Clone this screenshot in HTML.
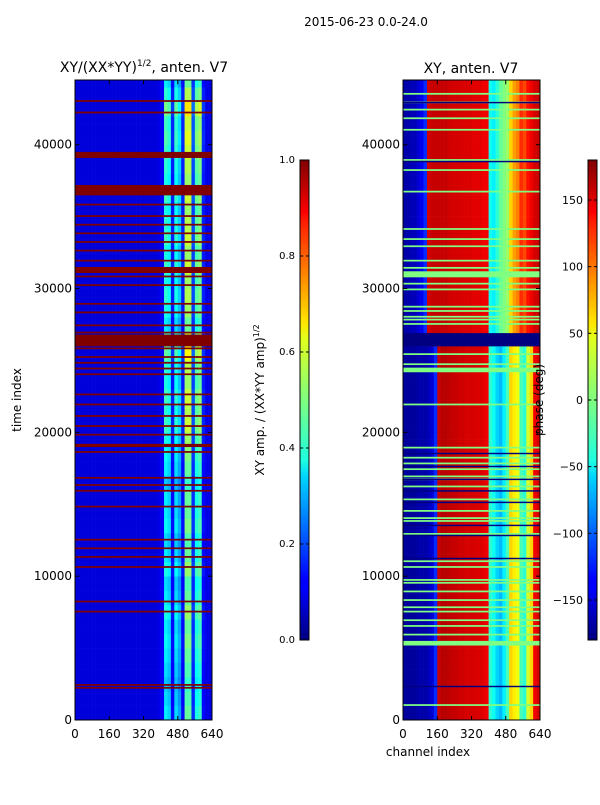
<!DOCTYPE html>
<html><head><meta charset="utf-8"><style>
body{margin:0;background:#fff;width:600px;height:800px;overflow:hidden;font-family:"Liberation Sans","DejaVu Sans",sans-serif;}
svg text{font-family:"DejaVu Sans","Liberation Sans",sans-serif;fill:#000;}
</style></head><body>
<svg id="fig" width="600" height="800" xmlns="http://www.w3.org/2000/svg">
<text x="366" y="26" font-size="12" text-anchor="middle">2015-06-23 0.0-24.0</text>
<text x="144" y="72" font-size="14" text-anchor="middle">XY/(XX*YY)<tspan font-size="9" dy="-6">1/2</tspan><tspan dy="6">, anten. V7</tspan></text>
<text x="471" y="73" font-size="14" text-anchor="middle">XY, anten. V7</text>
<text transform="translate(21,400) rotate(-90)" font-size="12" text-anchor="middle">time index</text>
<text transform="translate(264,400) rotate(-90)" font-size="12" text-anchor="middle">XY amp. / (XX*YY amp)<tspan font-size="8" dy="-5">1/2</tspan></text>
<text x="428" y="756" font-size="12" text-anchor="middle">channel index</text>
<g id="left"></g>
<g id="right"></g>
<g id="axes"></g>
<defs>
<linearGradient id="jet" x1="0" y1="1" x2="0" y2="0">
<stop offset="0" stop-color="#00007f"/><stop offset="0.11" stop-color="#0000ff"/><stop offset="0.125" stop-color="#0000ff"/><stop offset="0.34" stop-color="#00d4ff"/><stop offset="0.375" stop-color="#1fffdf"/><stop offset="0.5" stop-color="#7fff7f"/><stop offset="0.625" stop-color="#dfff1f"/><stop offset="0.66" stop-color="#ffe600"/><stop offset="0.875" stop-color="#ff1a00"/><stop offset="0.89" stop-color="#ff0000"/><stop offset="1" stop-color="#7f0000"/>
</linearGradient>
</defs>
<rect x="300" y="160" width="9" height="480" fill="url(#jet)" stroke="#000" stroke-width="1"/>
<rect x="588" y="160" width="9" height="480" fill="url(#jet)" stroke="#000" stroke-width="1"/>
<g id="cbticks"></g>
</svg>
<script>
// ---- data ----
var timeMax = 44500;
var rowStep = 500;
var chanStep = 16;
// left amplitude channel profile (16-ch bins, 40 bins)
var ampProfile = [0.09,0.09,0.09,0.09,0.09,0.09,0.09,0.09,0.09,0.09,0.09,0.09,0.09,0.09,0.09,0.09,0.09,0.09,0.09,0.09,0.09,0.09,0.09,0.09,0.1,0.12,0.38,0.35,0.14,0.36,0.3,0.14,0.5,0.5,0.18,0.42,0.45,0.14,0.1,0.1];
// row gain per 1000 time index (0..44000)
var rowGain = [0.95,0.9,0.85,0.9,0.95,1.0,0.95,1.05,0.95,0.9,1.05,0.95,0.9,1.0,0.95,0.95,0.85,0.95,1.0,1.05,1.15,1.1,1.15,1.05,1.1,1.25,1.15,0.95,1.05,1.1,1.05,1.15,1.05,1.15,1.1,1.05,1.15,1.05,1.1,1.15,1.2,1.15,1.3,1.1,0.95];
// left flagged (dark red) rows
var leftFlags = [43000,42200,39400,37100,36800,35800,35000,34400,33800,33200,32600,31900,30800,30200,28900,28300,27400,26900,25800,25200,24800,24400,24000,22600,21900,21100,20400,19800,18600,16800,16300,15900,14800,12500,11900,11300,10600,8200,7500,2400,2200];
var leftThick = [[39100,39400],[36500,37200],[31100,31500],[26000,26800],[19000,19200]];
// right phase channel profiles (degrees)
var phaseUpper = [-165,-165,-160,-160,-150,-140,-120,150,155,155,155,155,155,152,150,150,150,148,148,148,145,145,145,140,140,-40,-50,-30,-10,0,10,60,80,90,120,110,130,140,150,155];
var phaseLower = [-170,-170,-170,-170,-165,-165,-165,-160,-150,-120,155,160,160,158,155,155,152,152,150,150,150,148,148,145,140,-30,-40,-60,-70,-50,-20,60,50,40,-20,-30,30,60,140,150];
var phaseSplit = 26000;
var greenFlags = [43500,42900,42400,41800,41000,38900,38200,36700,34100,33400,32900,31900,31400,30900,30300,29900,28700,28400,28000,27800,27500,25400,24700,21900,18900,18200,17800,17400,16900,16700,16200,15300,14500,14000,13800,12900,11000,10600,9700,9500,8900,8300,7800,7500,6900,6500,5900,5400,1000];
var greenThick = [[30800,31200],[24200,24500],[5200,5400]];
var navyFlags = [42900,38800,18500,17600,16700,15900,15100,13500,12800,11200,2300];
var navyThick = [[26000,26900]];
// tick labels
var xTicks = [0,160,320,480,640];
var yTicks = [0,10000,20000,30000,40000];
var ampTicks = [0.0,0.2,0.4,0.6,0.8,1.0];
var phaseTicks = [-150,-100,-50,0,50,100,150];

// ---- helpers ----
var NS = "http://www.w3.org/2000/svg";
var L = {x0:75, x1:212}, R = {x0:403, x1:540}, Y0 = 720, Y1 = 80;
function ty(t){ return Y0 - (t/timeMax)*(Y0-Y1); }
function cx(p,c){ return p.x0 + (c/640)*(p.x1-p.x0); }
function cl(v){ return Math.max(0,Math.min(1,v)); }
function jet(x){ x=cl(x);
  var r=cl(1.5-Math.abs(4*x-3)), g=cl(1.5-Math.abs(4*x-2)), b=cl(1.5-Math.abs(4*x-1));
  return "rgb("+Math.round(r*255)+","+Math.round(g*255)+","+Math.round(b*255)+")"; }
function rect(parent,x,y,w,h,fill){
  var r=document.createElementNS(NS,"rect");
  r.setAttribute("x",x.toFixed(2));r.setAttribute("y",y.toFixed(2));
  r.setAttribute("width",(w+0.3).toFixed(2));r.setAttribute("height",(h+0.3).toFixed(2));
  r.setAttribute("fill",fill);parent.appendChild(r);return r; }
function txt(parent,x,y,s,anchor,size){
  var t=document.createElementNS(NS,"text");
  t.setAttribute("x",x);t.setAttribute("y",y);t.setAttribute("text-anchor",anchor);
  t.setAttribute("font-size",size||12);t.textContent=s;parent.appendChild(t);return t; }

var gL=document.getElementById("left"), gR=document.getElementById("right");
for(var t=0;t<timeMax;t+=rowStep){
  var gain=rowGain[Math.min(rowGain.length-1,Math.floor(t/1000))];
  for(var i=0;i<ampProfile.length;i++){
    var v=ampProfile[i]; if(v>0.12) v=v*gain;
    var c=rect(gL,cx(L,i*chanStep),ty(t+rowStep),cx(L,chanStep)-L.x0,ty(t)-ty(t+rowStep),jet(v));
    
    
  }
}
leftFlags.forEach(function(f){
  var c=rect(gL,L.x0,ty(f+100),L.x1-L.x0,ty(f)-ty(f+100),jet(1));
  
  
});
leftThick.forEach(function(f){
  var c=rect(gL,L.x0,ty(f[1]),L.x1-L.x0,ty(f[0])-ty(f[1]),jet(1));
  
  
});
for(var t=0;t<timeMax;t+=rowStep){
  var prof = t>=phaseSplit?phaseUpper:phaseLower;
  for(var i=0;i<prof.length;i++){
    var c=rect(gR,cx(R,i*chanStep),ty(t+rowStep),cx(R,chanStep)-R.x0,ty(t)-ty(t+rowStep),jet((prof[i]+180)/360));
    
    
  }
}
greenFlags.forEach(function(f){
  var c=rect(gR,R.x0,ty(f+100),R.x1-R.x0,ty(f)-ty(f+100),jet(0.5));
  
  
});
greenThick.forEach(function(f){
  var c=rect(gR,R.x0,ty(f[1]),R.x1-R.x0,ty(f[0])-ty(f[1]),jet(0.5));
  
  
});
navyFlags.forEach(function(f){
  var c=rect(gR,R.x0,ty(f+80),R.x1-R.x0,ty(f)-ty(f+80),jet(0));
  
  
});
navyThick.forEach(function(f){
  var c=rect(gR,R.x0,ty(f[1]),R.x1-R.x0,ty(f[0])-ty(f[1]),jet(0));
  
  
});
var gA=document.getElementById("axes");
[L,R].forEach(function(p,pi){
  var fr=document.createElementNS(NS,"rect");
  fr.setAttribute("x",p.x0);fr.setAttribute("y",Y1);fr.setAttribute("width",p.x1-p.x0);fr.setAttribute("height",Y0-Y1);
  fr.setAttribute("fill","none");fr.setAttribute("stroke","#000");fr.setAttribute("stroke-width","1");
  
  
  gA.appendChild(fr);
  xTicks.forEach(function(v){
    var x=cx(p,v);
    rect(gA,x-0.5,Y0-4,0.7,4,"#000");
    rect(gA,x-0.5,Y1,0.7,4,"#000");
    var lb=txt(gA,x,738,String(v),"middle",12);
    
    
  });
  yTicks.forEach(function(v){
    var y=ty(v);
    rect(gA,p.x0,y-0.5,4,0.7,"#000");
    rect(gA,p.x1-4,y-0.5,4,0.7,"#000");
    var lb=txt(gA,p.x0-3,y+4,String(v),"end",12);
    
    
  });
});
var gC=document.getElementById("cbticks");
ampTicks.forEach(function(v){
  var y=640-v*480;
  rect(gC,300,y-0.5,3,0.7,"#000");rect(gC,306,y-0.5,3,0.7,"#000");
  var lb=txt(gC,295,y+3,v.toFixed(1),"end",10);
  
  
});
phaseTicks.forEach(function(v){
  var y=400-v*480/360;
  rect(gC,588,y-0.5,3,0.7,"#000");rect(gC,594,y-0.5,3,0.7,"#000");
  var lb=txt(gC,583,y+4,String(v).replace("-","\u2212"),"end",11);
  
  
});
var pl=document.createElementNS(NS,"text");
pl.setAttribute("transform","translate(543,400) rotate(-90)");
pl.setAttribute("font-size","12");pl.setAttribute("text-anchor","middle");
pl.textContent="phase (deg)";


document.getElementById("fig").appendChild(pl);
</script>
</body></html>
